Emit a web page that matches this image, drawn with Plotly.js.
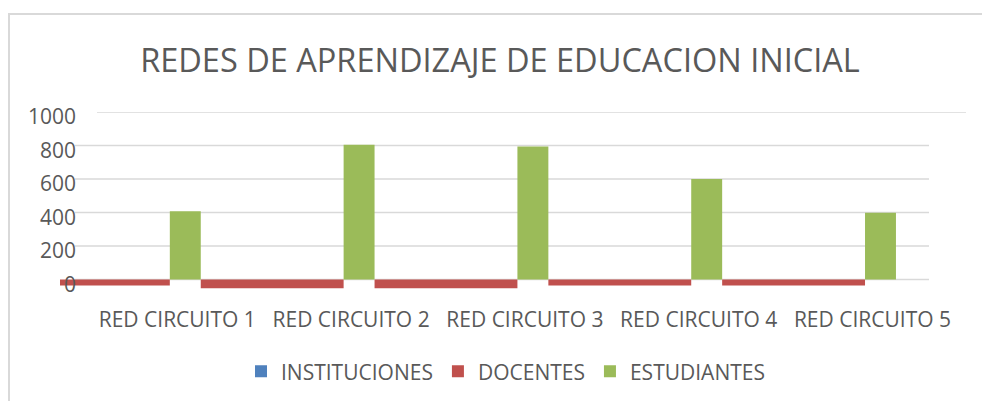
<!DOCTYPE html>
<html><head><meta charset="utf-8">
<script src="https://cdn.plot.ly/plotly-3.0.1.min.js"></script>
<style>html,body{margin:0;padding:0;background:#fff;} #chart{width:982px;height:401px;}</style>
</head><body><div id="chart"></div>
<script>
// ---- data ----
const CATEGORIES = ['RED CIRCUITO 1', 'RED CIRCUITO 2', 'RED CIRCUITO 3', 'RED CIRCUITO 4', 'RED CIRCUITO 5'];
const INSTITUCIONES = [0, 0, 0, 0, 0];          // not visible in the reference
const DOCENTES = [36, 52, 52, 36, 36];          // drawn below the axis in the reference
const ESTUDIANTES = [408, 805, 794, 600, 398];
const Y_TICKS = [0, 200, 400, 600, 800, 1000];
const TITLE = 'REDES DE APRENDIZAJE DE EDUCACION INICIAL';

const W = 982, H = 401;
const TXT = '#595959';
const FONT = 'Open Sans, sans-serif';

const traces = [
  {type: 'bar', name: 'INSTITUCIONES', x: CATEGORIES, y: INSTITUCIONES,
   marker: {color: '#4f81bd'}, width: 0.178, offset: -0.089, hoverinfo: 'skip'},
  {type: 'bar', name: 'DOCENTES', x: CATEGORIES, y: DOCENTES.map(v => -v),
   marker: {color: '#c0504d'}, width: 0.822, offset: -0.911},
  {type: 'bar', name: 'ESTUDIANTES', x: CATEGORIES, y: ESTUDIANTES,
   marker: {color: '#9bbb59'}, width: 0.178, offset: -0.089}
];

const shapes = Y_TICKS.map(v => ({
  type: 'line', xref: 'paper', yref: 'y', layer: 'below',
  x0: (v === 1000 ? 97 : 75) / W, x1: (v === 1000 ? 966 : 929) / W,
  y0: v, y1: v, line: {color: '#d9d9d9', width: 1.5}
}));
shapes.push({type: 'rect', xref: 'paper', yref: 'paper', layer: 'below',
  x0: 9 / W, x1: 1.2, y0: 1 - 14 / H, y1: -0.2,
  line: {color: '#d9d9d9', width: 2}, fillcolor: 'rgba(0,0,0,0)'});

const layout = {
  width: W, height: H,
  margin: {l: 0, r: 0, t: 0, b: 0},
  paper_bgcolor: '#fff', plot_bgcolor: 'rgba(0,0,0,0)',
  font: {family: FONT, color: TXT},
  barmode: 'overlay',
  title: {text: TITLE, font: {family: FONT, size: 32.5, color: TXT},
          x: 500 / W, xanchor: 'center', xref: 'paper', y: 1 - 61 / H, yanchor: 'middle', yref: 'paper'},
  xaxis: {domain: [60 / W, 966 / W], range: [-0.7209, 4.4920], type: 'category',
          showgrid: false, zeroline: false, showline: false, ticks: '',
          tickfont: {family: FONT, size: 21, color: TXT}, ticklabelstandoff: 15, ticklabelshift: -8},
  yaxis: {domain: [1 - 289.55 / H, 1 - 112 / H], range: [-60, 1000],
          anchor: 'free', position: 76 / W,
          tickvals: Y_TICKS, ticktext: Y_TICKS.map(String),
          showgrid: false, zeroline: false, showline: false, ticks: '',
          tickfont: {family: FONT, size: 21, color: TXT}, ticklabelshift: 5},
  showlegend: true,
  legend: {orientation: 'h', x: 505.5 / W, xanchor: 'center', y: 1 - 371.7 / H, yanchor: 'middle',
           font: {family: FONT, size: 21, color: TXT}, bgcolor: 'rgba(0,0,0,0)'},
  shapes: shapes
};

Plotly.newPlot('chart', traces, layout, {staticPlot: true, displayModeBar: false});
</script>
</body></html>
